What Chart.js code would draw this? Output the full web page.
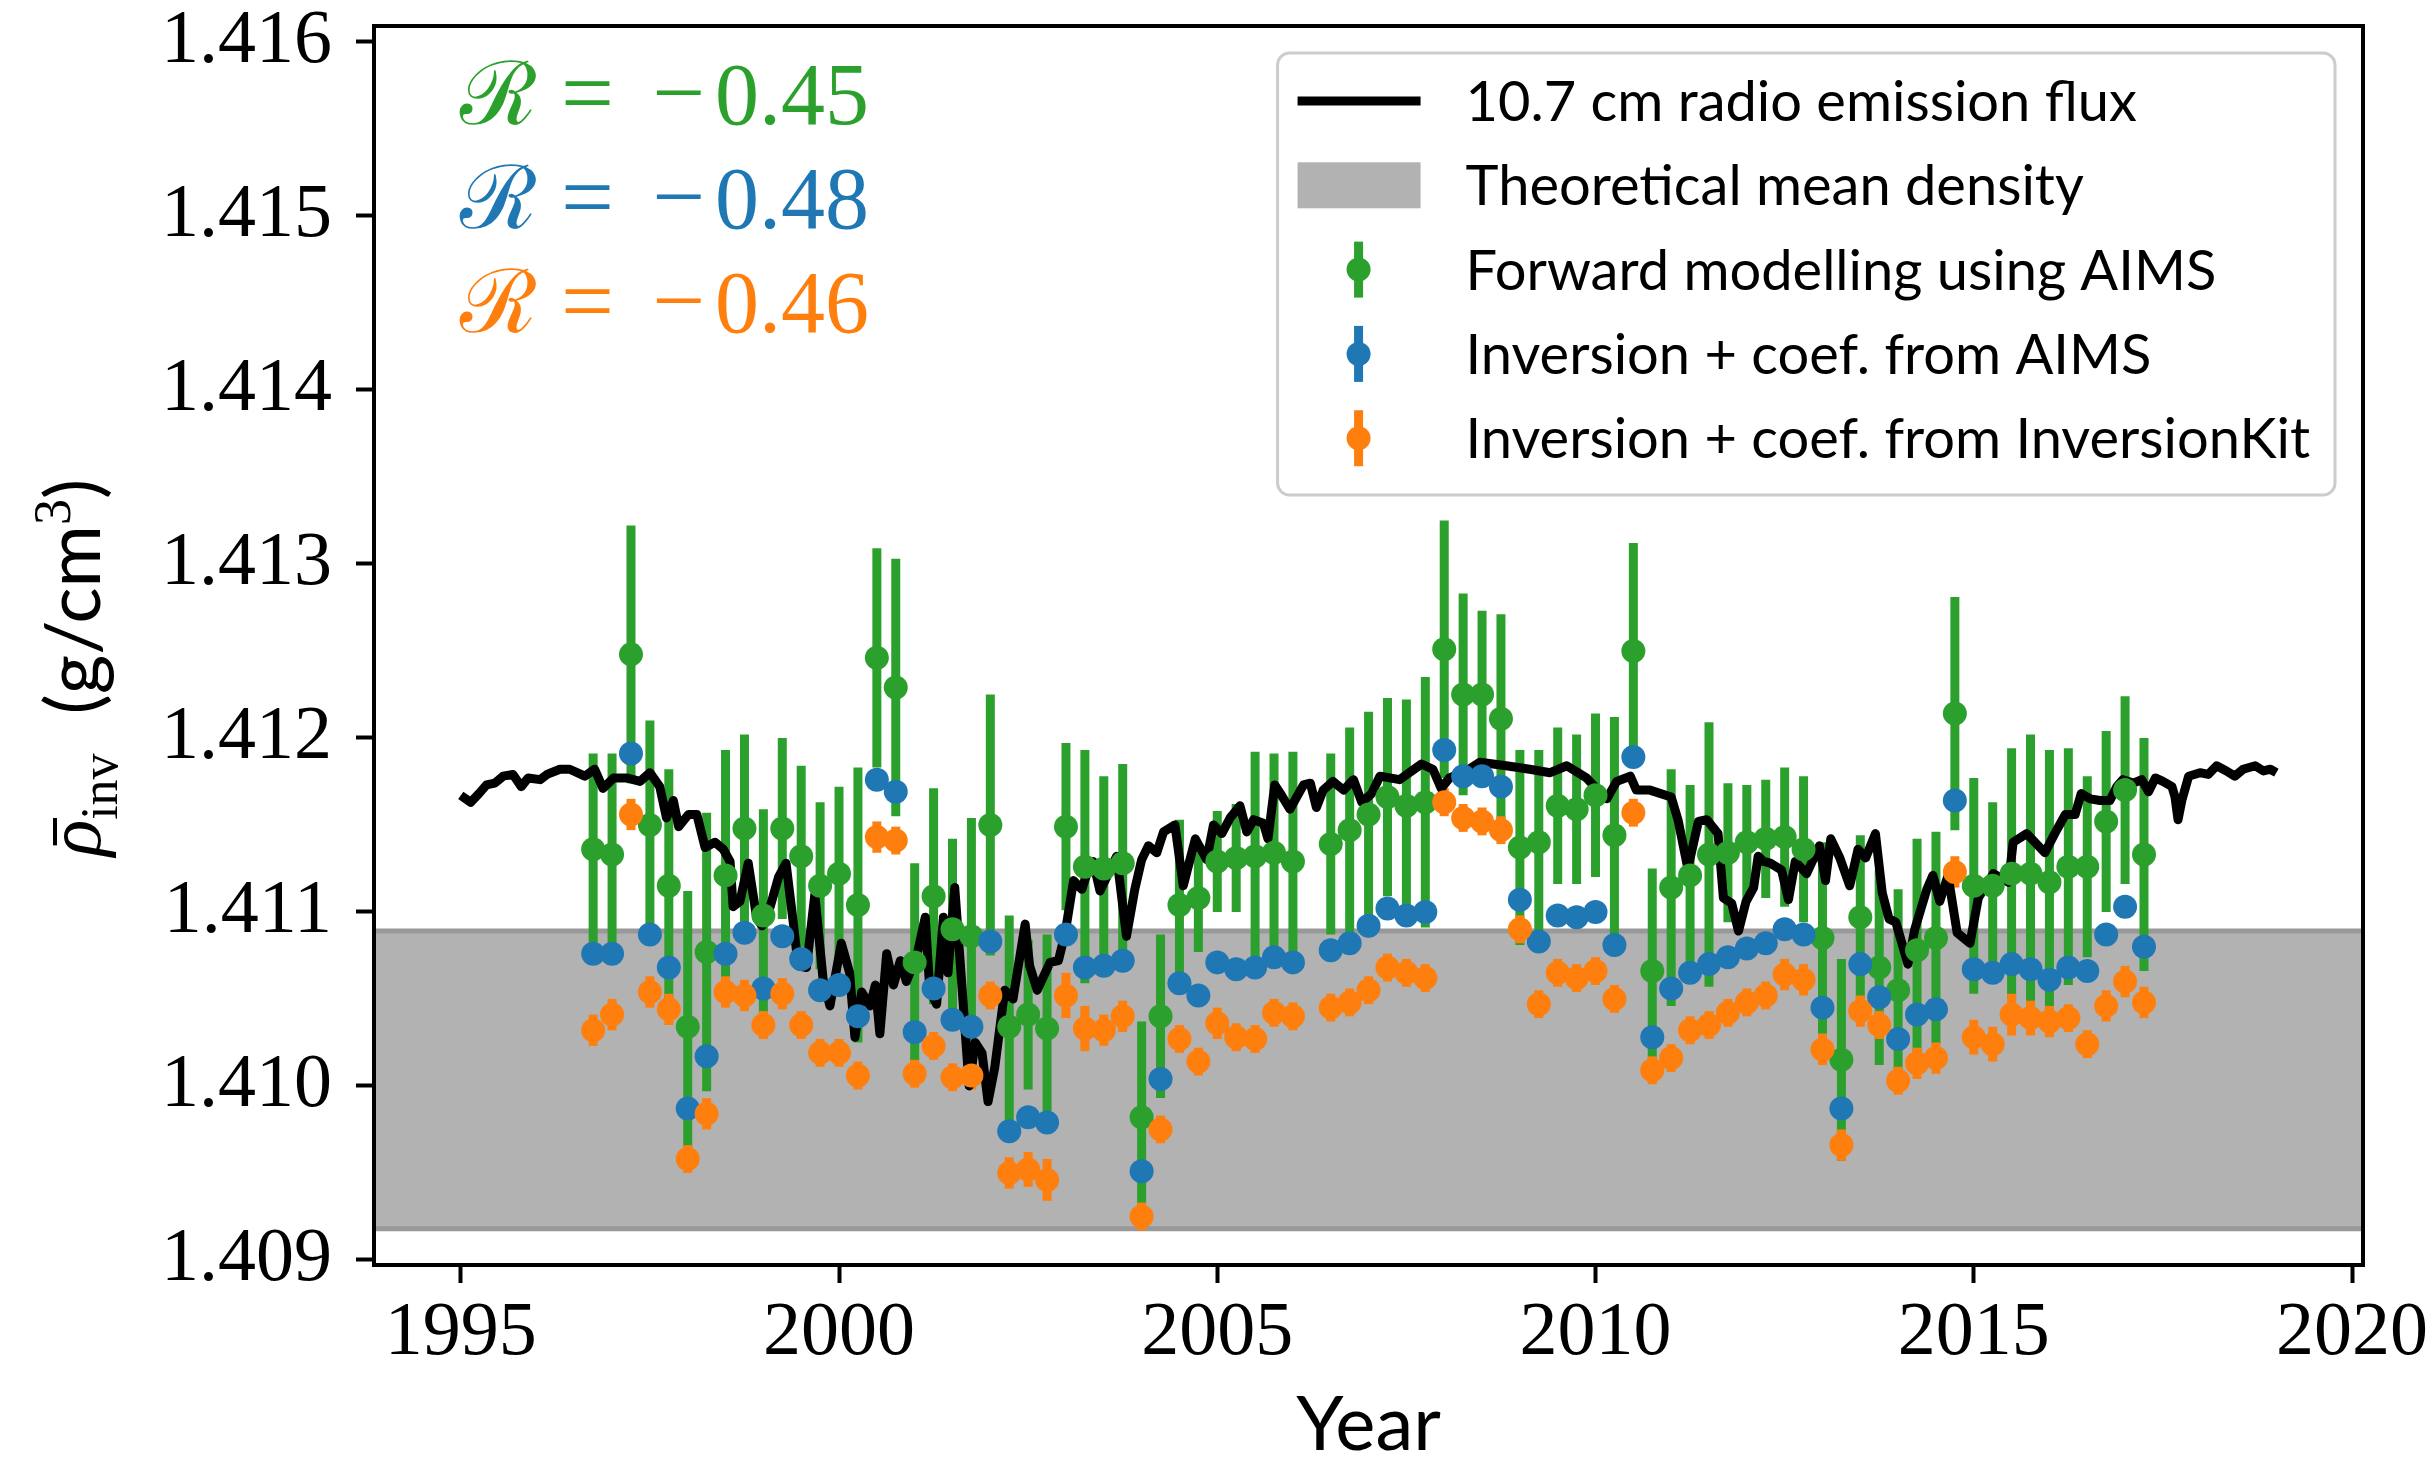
<!DOCTYPE html>
<html>
<head>
<meta charset="utf-8">
<script src="https://cdn.jsdelivr.net/npm/chart.js@4.4.1/dist/chart.umd.min.js"></script>
<style>
  html, body { margin: 0; padding: 0; background: #fff; }
</style>
</head>
<body>
<canvas id="densityChart" width="2433" height="1460"></canvas>
<script>
// Observation epochs (quarterly, 2006.25 missing)
const epochs = [
  1996.75, 1997.0, 1997.25, 1997.5, 1997.75, 1998.0, 1998.25, 1998.5, 1998.75, 1999.0, 1999.25,
  1999.5, 1999.75, 2000.0, 2000.25, 2000.5, 2000.75, 2001.0, 2001.25, 2001.5, 2001.75,
  2002.0, 2002.25, 2002.5, 2002.75, 2003.0, 2003.25, 2003.5, 2003.75, 2004.0, 2004.25,
  2004.5, 2004.75, 2005.0, 2005.25, 2005.5, 2005.75, 2006.0,
  2006.5, 2006.75, 2007.0,
  2007.25, 2007.5, 2007.75, 2008.0, 2008.25, 2008.5, 2008.75, 2009.0, 2009.25, 2009.5,
  2009.75, 2010.0, 2010.25, 2010.5, 2010.75, 2011.0, 2011.25, 2011.5, 2011.75, 2012.0, 2012.25,
  2012.5, 2012.75, 2013.0, 2013.25, 2013.5, 2013.75, 2014.0, 2014.25, 2014.5, 2014.75,
  2015.0, 2015.25, 2015.5, 2015.75, 2016.0, 2016.25, 2016.5, 2016.75, 2017.0, 2017.25,
];

// Forward modelling using AIMS (g/cm^3) and 1-sigma errors
const forwardAims = [
  1.41136, 1.41133, 1.41248, 1.41150, 1.41115, 1.41034, 1.41077, 1.41121, 1.41148, 1.41098, 1.41148,
  1.41132, 1.41115, 1.41122, 1.41104, 1.41246, 1.41229, 1.41071, 1.41109, 1.41090, 1.41086,
  1.41150, 1.41034, 1.41041, 1.41033, 1.41149, 1.41126, 1.41125, 1.41128, 1.40982, 1.41040,
  1.41104, 1.41108, 1.41129, 1.41131, 1.41132, 1.41134, 1.41129,
  1.41139, 1.41147, 1.41156,
  1.41166, 1.41161, 1.41163, 1.41251, 1.41225, 1.41225, 1.41211, 1.41137, 1.41140, 1.41161,
  1.41159, 1.41167, 1.41144, 1.41250, 1.41066, 1.41114, 1.41121, 1.41133, 1.41134, 1.41140, 1.41142,
  1.41143, 1.41136, 1.41085, 1.41015, 1.41097, 1.41068, 1.41055, 1.41078, 1.41085, 1.41214,
  1.41115, 1.41115, 1.41122, 1.41122, 1.41117, 1.41126, 1.41126, 1.41152, 1.41170, 1.41133,
];
const forwardAimsErr = [
  0.00055, 0.00058, 0.00074, 0.00060, 0.00067, 0.00078, 0.00080, 0.00072, 0.00054, 0.00061, 0.00052,
  0.00052, 0.00048, 0.00050, 0.00079, 0.00063, 0.00074, 0.00057, 0.00062, 0.00052, 0.00068,
  0.00075, 0.00064, 0.00043, 0.00054, 0.00048, 0.00067, 0.00053, 0.00057, 0.00055, 0.00047,
  0.00049, 0.00031, 0.00029, 0.00031, 0.00060, 0.00057, 0.00063,
  0.00052, 0.00059, 0.00059,
  0.00057, 0.00061, 0.00072, 0.00074, 0.00058, 0.00048, 0.00060, 0.00056, 0.00053, 0.00045,
  0.00043, 0.00047, 0.00068, 0.00062, 0.00059, 0.00068, 0.00052, 0.00076, 0.00040, 0.00033, 0.00034,
  0.00040, 0.00042, 0.00055, 0.00058, 0.00047, 0.00056, 0.00058, 0.00064, 0.00061, 0.00067,
  0.00062, 0.00048, 0.00072, 0.00080, 0.00076, 0.00068, 0.00052, 0.00052, 0.00054, 0.00067,
];

// Inversion + coefficients from AIMS
const inversionAims = [
  1.41076, 1.41076, 1.41191, 1.41087, 1.41068, 1.40987, 1.41017, 1.41076, 1.41088, 1.41056, 1.41086,
  1.41073, 1.41055, 1.41058, 1.41040, 1.41176, 1.41169, 1.41031, 1.41056, 1.41038, 1.41034,
  1.41083, 1.40974, 1.40982, 1.40979, 1.41087, 1.41068, 1.41069, 1.41072, 1.40951, 1.41004,
  1.41059, 1.41052, 1.41071, 1.41067, 1.41068, 1.41074, 1.41071,
  1.41078, 1.41082, 1.41092,
  1.41102, 1.41098, 1.41100, 1.41193, 1.41178, 1.41178, 1.41172, 1.41107, 1.41083, 1.41098,
  1.41097, 1.41100, 1.41081, 1.41189, 1.41028, 1.41056, 1.41065, 1.41070, 1.41074, 1.41079, 1.41082,
  1.41090, 1.41087, 1.41045, 1.40987, 1.41070, 1.41051, 1.41027, 1.41041, 1.41044, 1.41164,
  1.41067, 1.41065, 1.41070, 1.41067, 1.41061, 1.41068, 1.41066, 1.41087, 1.41103, 1.41080,
];

// Inversion + coefficients from InversionKit
const inversionKit = [
  1.41032, 1.41041, 1.41156, 1.41054, 1.41044, 1.40958, 1.40984, 1.41054, 1.41052, 1.41035, 1.41053,
  1.41035, 1.41019, 1.41019, 1.41006, 1.41143, 1.41141, 1.41007, 1.41023, 1.41005, 1.41006,
  1.41052, 1.40950, 1.40952, 1.40946, 1.41052, 1.41033, 1.41032, 1.41040, 1.40925, 1.40975,
  1.41027, 1.41014, 1.41036, 1.41028, 1.41027, 1.41042, 1.41040,
  1.41045, 1.41048, 1.41055,
  1.41068, 1.41065, 1.41062, 1.41163, 1.41154, 1.41152, 1.41147, 1.41090, 1.41047, 1.41065,
  1.41062, 1.41066, 1.41050, 1.41157, 1.41009, 1.41016, 1.41032, 1.41035, 1.41042, 1.41048, 1.41052,
  1.41064, 1.41061, 1.41021, 1.40966, 1.41043, 1.41035, 1.41003, 1.41013, 1.41016, 1.41123,
  1.41028, 1.41024, 1.41041, 1.41039, 1.41037, 1.41039, 1.41024, 1.41046, 1.41060, 1.41048,
];
const inversionKitErr = [
  0.00009, 0.00009, 0.00009, 0.00009, 0.00009, 0.00008, 0.00009, 0.00009, 0.00009, 0.00008, 0.00009,
  0.00008, 0.00008, 0.00008, 0.00008, 0.00009, 0.00008, 0.00008, 0.00008, 0.00008, 0.00008,
  0.00008, 0.00009, 0.00010, 0.00012, 0.00013, 0.00013, 0.00009, 0.00009, 0.00008, 0.00008,
  0.00008, 0.00008, 0.00009, 0.00008, 0.00008, 0.00008, 0.00008,
  0.00008, 0.00008, 0.00008,
  0.00008, 0.00008, 0.00008, 0.00008, 0.00008, 0.00008, 0.00008, 0.00008, 0.00008, 0.00008,
  0.00008, 0.00008, 0.00008, 0.00008, 0.00008, 0.00008, 0.00008, 0.00008, 0.00008, 0.00008, 0.00008,
  0.00009, 0.00009, 0.00009, 0.00009, 0.00009, 0.00008, 0.00008, 0.00009, 0.00009, 0.00009,
  0.00010, 0.00010, 0.00012, 0.00010, 0.00009, 0.00008, 0.00008, 0.00009, 0.00009, 0.00009,
];

// 10.7 cm radio flux, rescaled onto the density axis
const fluxYears = [
  1995.00, 1995.13, 1995.24, 1995.34, 1995.45, 1995.56, 1995.69, 1995.80, 1995.89, 1996.05,
  1996.14, 1996.31, 1996.44, 1996.64, 1996.77, 1996.88, 1997.02, 1997.19, 1997.37, 1997.50,
  1997.63, 1997.72, 1997.81, 1997.88, 1998.01, 1998.12, 1998.23, 1998.36, 1998.47, 1998.56,
  1998.60, 1998.69, 1998.80, 1998.91, 1998.98, 1999.09, 1999.20, 1999.30, 1999.40, 1999.46,
  1999.57, 1999.68, 1999.79, 1999.88, 2000.03, 2000.14, 2000.21, 2000.30, 2000.41, 2000.48,
  2000.54, 2000.63, 2000.72, 2000.81, 2000.89, 2001.03, 2001.14, 2001.20, 2001.29, 2001.38,
  2001.44, 2001.53, 2001.60, 2001.72, 2001.80, 2001.89, 2001.97, 2002.06, 2002.19, 2002.30,
  2002.46, 2002.52, 2002.62, 2002.79, 2002.90, 2002.99, 2003.10, 2003.21, 2003.27, 2003.36,
  2003.45, 2003.56, 2003.67, 2003.80, 2003.91, 2004.00, 2004.09, 2004.20, 2004.29, 2004.44,
  2004.55, 2004.71, 2004.86, 2004.95, 2005.06, 2005.17, 2005.30, 2005.39, 2005.48, 2005.61,
  2005.67, 2005.76, 2005.85, 2005.96, 2006.05, 2006.14, 2006.23, 2006.31, 2006.40, 2006.53,
  2006.67, 2006.80, 2006.91, 2007.04, 2007.15, 2007.41, 2007.70, 2007.85, 2007.96, 2008.07,
  2008.29, 2008.47, 2008.82, 2009.13, 2009.40, 2009.62, 2009.88, 2010.01, 2010.15, 2010.28,
  2010.46, 2010.54, 2010.72, 2011.00, 2011.09, 2011.22, 2011.36, 2011.47, 2011.62, 2011.69,
  2011.80, 2011.89, 2011.99, 2012.09, 2012.15, 2012.22, 2012.31, 2012.46, 2012.55, 2012.64,
  2012.79, 2012.96, 2013.04, 2013.11, 2013.23, 2013.36, 2013.47, 2013.57, 2013.70, 2013.79,
  2013.88, 2013.97, 2014.13, 2014.22, 2014.38, 2014.46, 2014.55, 2014.66, 2014.78, 2014.95,
  2015.06, 2015.26, 2015.46, 2015.52, 2015.70, 2015.94, 2016.07, 2016.21, 2016.34, 2016.42,
  2016.54, 2016.67, 2016.80, 2016.89, 2016.97, 2017.11, 2017.22, 2017.31, 2017.40, 2017.50,
  2017.62, 2017.66, 2017.70, 2017.75, 2017.84, 2017.99, 2018.10, 2018.21, 2018.34, 2018.45,
  2018.56, 2018.72, 2018.83, 2018.92, 2019.00,
];
const fluxLevel = [
  1.41167, 1.41163, 1.41168, 1.41173, 1.41174, 1.41178, 1.41179, 1.41172, 1.41177, 1.41176,
  1.41179, 1.41182, 1.41182, 1.41178, 1.41182, 1.41171, 1.41177, 1.41177, 1.41175, 1.41180,
  1.41172, 1.41154, 1.41164, 1.41149, 1.41156, 1.41156, 1.41137, 1.41140, 1.41136, 1.41129,
  1.41103, 1.41106, 1.41128, 1.41097, 1.41092, 1.41103, 1.41120, 1.41128, 1.41092, 1.41069,
  1.41068, 1.41110, 1.41061, 1.41046, 1.41082, 1.41065, 1.41028, 1.41054, 1.41046, 1.41058,
  1.41030, 1.41076, 1.41058, 1.41072, 1.41060, 1.41075, 1.41097, 1.41055, 1.41047, 1.41097,
  1.41065, 1.41114, 1.41072, 1.41000, 1.41025, 1.41019, 1.40991, 1.41011, 1.41055, 1.41050,
  1.41093, 1.41069, 1.41055, 1.41071, 1.41072, 1.41088, 1.41118, 1.41113, 1.41121, 1.41129,
  1.41112, 1.41122, 1.41132, 1.41086, 1.41113, 1.41130, 1.41138, 1.41134, 1.41146, 1.41150,
  1.41115, 1.41142, 1.41130, 1.41150, 1.41145, 1.41154, 1.41161, 1.41146, 1.41153, 1.41151,
  1.41142, 1.41173, 1.41167, 1.41159, 1.41166, 1.41173, 1.41174, 1.41160, 1.41170, 1.41175,
  1.41170, 1.41176, 1.41163, 1.41168, 1.41178, 1.41176, 1.41185, 1.41182, 1.41171, 1.41177,
  1.41181, 1.41186, 1.41184, 1.41182, 1.41180, 1.41184, 1.41177, 1.41171, 1.41165, 1.41175,
  1.41178, 1.41170, 1.41170, 1.41166, 1.41153, 1.41125, 1.41152, 1.41153, 1.41145, 1.41108,
  1.41105, 1.41089, 1.41106, 1.41114, 1.41132, 1.41129, 1.41128, 1.41124, 1.41107, 1.41129,
  1.41122, 1.41138, 1.41118, 1.41142, 1.41131, 1.41115, 1.41136, 1.41131, 1.41145, 1.41111,
  1.41096, 1.41094, 1.41070, 1.41090, 1.41113, 1.41121, 1.41106, 1.41121, 1.41088, 1.41082,
  1.41108, 1.41122, 1.41117, 1.41140, 1.41145, 1.41134, 1.41145, 1.41156, 1.41156, 1.41168,
  1.41165, 1.41164, 1.41164, 1.41172, 1.41176, 1.41174, 1.41176, 1.41169, 1.41177, 1.41175,
  1.41172, 1.41166, 1.41153, 1.41164, 1.41178, 1.41180, 1.41179, 1.41184, 1.41181, 1.41178,
  1.41182, 1.41184, 1.41181, 1.41182, 1.41180,
];

// Theoretical mean density band
const theoryLow = 1.40918;
const theoryHigh = 1.41089;

// Correlation coefficients with the flux
const correlations = ['0.45', '0.48', '0.46'];

const xTicks = [1995, 2000, 2005, 2010, 2015, 2020];
const yTicks = [1.409, 1.410, 1.411, 1.412, 1.413, 1.414, 1.415, 1.416];

const GREEN = '#2ca02c';
const BLUE = '#1f77b4';
const ORANGE = '#ff7f0e';
const SERIF = '"Liberation Serif", "DejaVu Serif", serif';
const SANS = 'Lato, "Open Sans", sans-serif';

const toPoints = (xs, ys) => xs.map((x, i) => ({ x: x, y: ys[i] }));

// band + error bars go under every marker
const underlayPlugin = {
  id: 'underlay',
  beforeDatasetsDraw(chart) {
    const { ctx, chartArea: a, scales: { x, y } } = chart;
    ctx.save();
    ctx.beginPath();
    ctx.rect(a.left, a.top, a.width, a.height);
    ctx.clip();
    const yHi = y.getPixelForValue(theoryHigh);
    const yLo = y.getPixelForValue(theoryLow);
    ctx.fillStyle = '#b2b2b2';
    ctx.fillRect(a.left, yHi, a.width, yLo - yHi);
    ctx.strokeStyle = '#999999';
    ctx.lineWidth = 5;
    [yHi, yLo].forEach(py => {
      ctx.beginPath();
      ctx.moveTo(a.left, py);
      ctx.lineTo(a.right, py);
      ctx.stroke();
    });
    chart.data.datasets.forEach(ds => {
      if (!ds.yErr) return;
      ctx.strokeStyle = ds.backgroundColor;
      ctx.lineWidth = 9;
      ds.data.forEach((p, i) => {
        const px = x.getPixelForValue(p.x);
        ctx.beginPath();
        ctx.moveTo(px, y.getPixelForValue(p.y - ds.yErr[i]));
        ctx.lineTo(px, y.getPixelForValue(p.y + ds.yErr[i]));
        ctx.stroke();
      });
    });
    ctx.restore();
  }
};

// frame, axis titles, correlation labels and legend
const overlayPlugin = {
  id: 'overlay',
  afterDraw(chart) {
    const { ctx, chartArea: a } = chart;
    ctx.save();
    ctx.strokeStyle = '#000';
    ctx.lineWidth = 4;
    ctx.strokeRect(a.left, a.top, a.width, a.height);

    // x title
    ctx.fillStyle = '#000';
    ctx.textAlign = 'center';
    ctx.textBaseline = 'alphabetic';
    ctx.font = `76px ${SANS}`;
    ctx.fillText('Year', (a.left + a.right) / 2, 1450);

    // y title, written bottom-to-top
    const runs = [
      { t: '\u03c1', f: `italic 76px ${SERIF}`, dy: 0, bar: true },
      { t: 'inv', f: `52px ${SERIF}`, dy: 17 },
      { t: '  (g/cm', f: `76px ${SANS}`, dy: 0 },
      { t: '3', f: `52px ${SERIF}`, dy: -30 },
      { t: ')', f: `76px ${SANS}`, dy: 0 },
    ];
    let total = 0;
    runs.forEach(r => { ctx.font = r.f; r.w = ctx.measureText(r.t).width; total += r.w; });
    ctx.translate(100, (a.top + a.bottom) / 2 + 22);
    ctx.rotate(-Math.PI / 2);
    ctx.textAlign = 'left';
    let cx = -total / 2;
    runs.forEach(r => {
      ctx.font = r.f;
      ctx.fillText(r.t, cx, r.dy);
      if (r.bar) {
        ctx.fillRect(cx + r.w * 0.3, -47, r.w * 0.75, 4);
      }
      cx += r.w;
    });
    ctx.setTransform(1, 0, 0, 1, 0, 0);

    // correlation labels: R = -value
    const colors = [GREEN, BLUE, ORANGE];
    ctx.textAlign = 'left';
    correlations.forEach((c, i) => {
      const by = a.top + 98 + i * 104;
      ctx.fillStyle = colors[i];
      ctx.font = `88px "DejaVu Serif", serif`;
      ctx.fillText('\u211b', a.left + 86, by);
      ctx.font = `94px ${SERIF}`;
      ctx.fillText('=', a.left + 187, by);
      ctx.fillText('\u2212', a.left + 278, by);
      ctx.font = `88px ${SERIF}`;
      ctx.fillText(c, a.left + 341, by);
    });

    // legend
    const entries = chart.data.datasets.map(ds => ({ label: ds.label, ds: ds }));
    entries.splice(1, 0, { label: 'Theoretical mean density', band: true });
    ctx.font = `56px ${SANS}`;
    const maxW = Math.max(...entries.map(e => ctx.measureText(e.label).width));
    const boxW = 188 + maxW + 25;
    const boxH = 442;
    const bx = a.right - 28 - boxW;
    const by = a.top + 27;
    ctx.beginPath();
    ctx.roundRect(bx, by, boxW, boxH, 12);
    ctx.fillStyle = 'rgba(255,255,255,0.8)';
    ctx.fill();
    ctx.strokeStyle = '#cccccc';
    ctx.lineWidth = 3;
    ctx.stroke();
    entries.forEach((e, i) => {
      const base = by + 68 + i * 84.3;
      const mid = base - 20;
      const hx = bx + 81;
      if (e.band) {
        ctx.fillStyle = '#b2b2b2';
        ctx.fillRect(bx + 20, mid - 23, 123, 46);
      } else if (e.ds.showLine) {
        ctx.strokeStyle = e.ds.borderColor;
        ctx.lineWidth = e.ds.borderWidth;
        ctx.beginPath();
        ctx.moveTo(bx + 20, mid);
        ctx.lineTo(bx + 143, mid);
        ctx.stroke();
      } else {
        ctx.strokeStyle = e.ds.backgroundColor;
        ctx.fillStyle = e.ds.backgroundColor;
        ctx.lineWidth = 9;
        ctx.beginPath();
        ctx.moveTo(hx, mid - 28);
        ctx.lineTo(hx, mid + 28);
        ctx.stroke();
        ctx.beginPath();
        ctx.arc(hx, mid, 12, 0, Math.PI * 2);
        ctx.fill();
      }
      ctx.fillStyle = '#000';
      ctx.font = `56px ${SANS}`;
      ctx.fillText(e.label, bx + 188, base);
    });
    ctx.restore();
  }
};

new Chart(document.getElementById('densityChart'), {
  type: 'scatter',
  data: {
    datasets: [
      {
        label: '10.7 cm radio emission flux',
        data: toPoints(fluxYears, fluxLevel),
        showLine: true,
        borderColor: '#000',
        borderWidth: 9,
        borderJoinStyle: 'round',
        pointRadius: 0,
        tension: 0,
        order: 4,
      },
      {
        label: 'Forward modelling using AIMS',
        data: toPoints(epochs, forwardAims),
        yErr: forwardAimsErr,
        backgroundColor: GREEN,
        pointRadius: 12,
        pointBorderWidth: 0,
        order: 3,
      },
      {
        label: 'Inversion + coef. from AIMS',
        data: toPoints(epochs, inversionAims),
        backgroundColor: BLUE,
        pointRadius: 12,
        pointBorderWidth: 0,
        order: 2,
      },
      {
        label: 'Inversion + coef. from InversionKit',
        data: toPoints(epochs, inversionKit),
        yErr: inversionKitErr,
        backgroundColor: ORANGE,
        pointRadius: 12,
        pointBorderWidth: 0,
        order: 1,
      },
    ],
  },
  options: {
    responsive: false,
    devicePixelRatio: 1,
    animation: false,
    layout: { padding: { left: 0, right: 70, top: 26, bottom: 0 } },
    plugins: { legend: { display: false }, tooltip: { enabled: false } },
    scales: {
      x: {
        type: 'linear',
        min: 1993.853,
        max: 2020.145,
        afterBuildTicks: s => { s.ticks = xTicks.map(v => ({ value: v })); },
        afterFit: s => { s.height = 195; },
        grid: { drawOnChartArea: false, tickLength: 18, tickWidth: 4, tickColor: '#000' },
        border: { display: false },
        // lineHeight pushes the labels down instead of padding, which would widen the layout
        ticks: { font: { family: SERIF, size: 76, lineHeight: 1.34 }, color: '#000', padding: 0,
                 maxRotation: 0, autoSkip: false, callback: v => String(v) },
      },
      y: {
        type: 'linear',
        min: 1.408971,
        max: 1.416091,
        afterBuildTicks: s => { s.ticks = yTicks.map(v => ({ value: v })); },
        afterFit: s => { s.width = 374; },
        grid: { drawOnChartArea: false, tickLength: 18, tickWidth: 4, tickColor: '#000' },
        border: { display: false },
        ticks: { font: { family: SERIF, size: 76, lineHeight: 0.01 }, color: '#000', padding: 24,
                 autoSkip: false, callback: v => v.toFixed(3) },
      },
    },
  },
  plugins: [underlayPlugin, overlayPlugin],
});
</script>
</body>
</html>
